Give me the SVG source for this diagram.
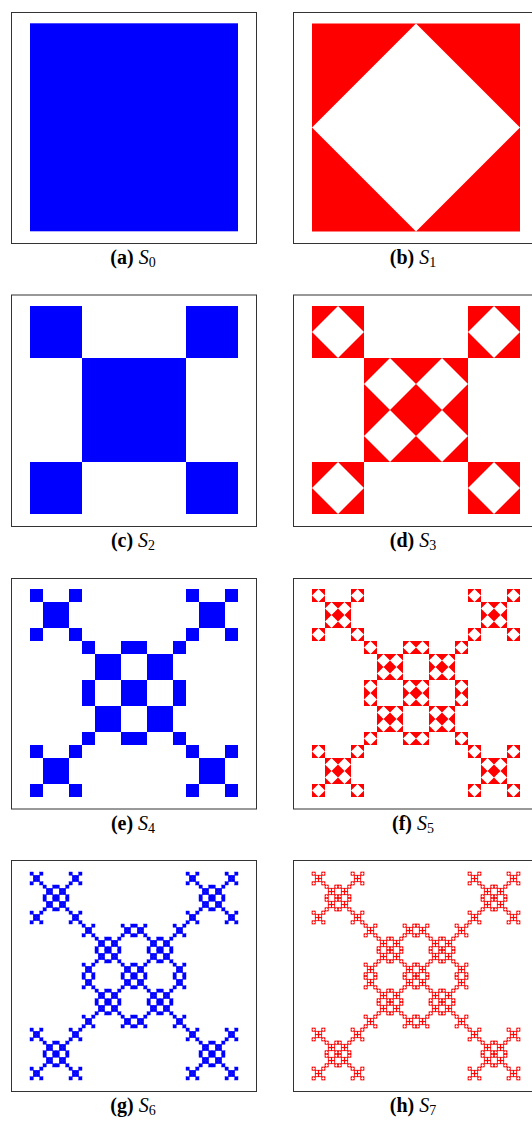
<svg xmlns="http://www.w3.org/2000/svg" width="532" height="1121" viewBox="0 0 532 1121">
<style>
.frame{fill:none;stroke:#333;stroke-width:1}
.blue{fill:#0000ff}
.red{fill:#ff0000}
.cap{font-family:'Liberation Serif','Times New Roman','DejaVu Serif',serif;font-size:20px;fill:#000;text-anchor:middle}
.lbl{font-weight:bold}
.var{font-style:italic}
.sub{font-size:14px}
</style>
<defs>
<g id="b0"><rect x="0" y="0" width="208" height="208"/></g>
<g id="b0s"><rect x="0" y="0" width="208" height="208" stroke="#0000ff" stroke-width="28"/></g>
<g id="b1">
<use href="#b0" transform="translate(0,0) scale(.25)"/>
<use href="#b0" transform="translate(156,0) scale(.25)"/>
<use href="#b0" transform="translate(0,156) scale(.25)"/>
<use href="#b0" transform="translate(156,156) scale(.25)"/>
<use href="#b0" transform="translate(52,52) scale(.25)"/>
<use href="#b0" transform="translate(104,52) scale(.25)"/>
<use href="#b0" transform="translate(52,104) scale(.25)"/>
<use href="#b0" transform="translate(104,104) scale(.25)"/>
</g>
<g id="b1s">
<use href="#b0s" transform="translate(0,0) scale(.25)"/>
<use href="#b0s" transform="translate(156,0) scale(.25)"/>
<use href="#b0s" transform="translate(0,156) scale(.25)"/>
<use href="#b0s" transform="translate(156,156) scale(.25)"/>
<use href="#b0s" transform="translate(52,52) scale(.25)"/>
<use href="#b0s" transform="translate(104,52) scale(.25)"/>
<use href="#b0s" transform="translate(52,104) scale(.25)"/>
<use href="#b0s" transform="translate(104,104) scale(.25)"/>
</g>
<g id="b2">
<use href="#b1" transform="translate(0,0) scale(.25)"/>
<use href="#b1" transform="translate(156,0) scale(.25)"/>
<use href="#b1" transform="translate(0,156) scale(.25)"/>
<use href="#b1" transform="translate(156,156) scale(.25)"/>
<use href="#b1" transform="translate(52,52) scale(.25)"/>
<use href="#b1" transform="translate(104,52) scale(.25)"/>
<use href="#b1" transform="translate(52,104) scale(.25)"/>
<use href="#b1" transform="translate(104,104) scale(.25)"/>
</g>
<g id="b2s">
<use href="#b1s" transform="translate(0,0) scale(.25)"/>
<use href="#b1s" transform="translate(156,0) scale(.25)"/>
<use href="#b1s" transform="translate(0,156) scale(.25)"/>
<use href="#b1s" transform="translate(156,156) scale(.25)"/>
<use href="#b1s" transform="translate(52,52) scale(.25)"/>
<use href="#b1s" transform="translate(104,52) scale(.25)"/>
<use href="#b1s" transform="translate(52,104) scale(.25)"/>
<use href="#b1s" transform="translate(104,104) scale(.25)"/>
</g>
<g id="b3">
<use href="#b2s" transform="translate(0,0) scale(.25)"/>
<use href="#b2s" transform="translate(156,0) scale(.25)"/>
<use href="#b2s" transform="translate(0,156) scale(.25)"/>
<use href="#b2s" transform="translate(156,156) scale(.25)"/>
<use href="#b2s" transform="translate(52,52) scale(.25)"/>
<use href="#b2s" transform="translate(104,52) scale(.25)"/>
<use href="#b2s" transform="translate(52,104) scale(.25)"/>
<use href="#b2s" transform="translate(104,104) scale(.25)"/>
</g>
<g id="r0"><path fill-rule="evenodd" d="M0,0H208V208H0Z M104,0L208,104L104,208L0,104Z"/></g>
<g id="r0s"><path fill-rule="evenodd" d="M0,0H208V208H0Z M104,0L208,104L104,208L0,104Z"/><rect x="0" y="0" width="208" height="208" fill="none" stroke="#ff0000" stroke-width="44"/></g>
<g id="r1">
<use href="#r0" transform="translate(0,0) scale(.25)"/>
<use href="#r0" transform="translate(156,0) scale(.25)"/>
<use href="#r0" transform="translate(0,156) scale(.25)"/>
<use href="#r0" transform="translate(156,156) scale(.25)"/>
<use href="#r0" transform="translate(52,52) scale(.25)"/>
<use href="#r0" transform="translate(104,52) scale(.25)"/>
<use href="#r0" transform="translate(52,104) scale(.25)"/>
<use href="#r0" transform="translate(104,104) scale(.25)"/>
</g>
<g id="r1s">
<use href="#r0s" transform="translate(0,0) scale(.25)"/>
<use href="#r0s" transform="translate(156,0) scale(.25)"/>
<use href="#r0s" transform="translate(0,156) scale(.25)"/>
<use href="#r0s" transform="translate(156,156) scale(.25)"/>
<use href="#r0s" transform="translate(52,52) scale(.25)"/>
<use href="#r0s" transform="translate(104,52) scale(.25)"/>
<use href="#r0s" transform="translate(52,104) scale(.25)"/>
<use href="#r0s" transform="translate(104,104) scale(.25)"/>
</g>
<g id="r2">
<use href="#r1" transform="translate(0,0) scale(.25)"/>
<use href="#r1" transform="translate(156,0) scale(.25)"/>
<use href="#r1" transform="translate(0,156) scale(.25)"/>
<use href="#r1" transform="translate(156,156) scale(.25)"/>
<use href="#r1" transform="translate(52,52) scale(.25)"/>
<use href="#r1" transform="translate(104,52) scale(.25)"/>
<use href="#r1" transform="translate(52,104) scale(.25)"/>
<use href="#r1" transform="translate(104,104) scale(.25)"/>
</g>
<g id="r2s">
<use href="#r1s" transform="translate(0,0) scale(.25)"/>
<use href="#r1s" transform="translate(156,0) scale(.25)"/>
<use href="#r1s" transform="translate(0,156) scale(.25)"/>
<use href="#r1s" transform="translate(156,156) scale(.25)"/>
<use href="#r1s" transform="translate(52,52) scale(.25)"/>
<use href="#r1s" transform="translate(104,52) scale(.25)"/>
<use href="#r1s" transform="translate(52,104) scale(.25)"/>
<use href="#r1s" transform="translate(104,104) scale(.25)"/>
</g>
<g id="r3">
<use href="#r2s" transform="translate(0,0) scale(.25)"/>
<use href="#r2s" transform="translate(156,0) scale(.25)"/>
<use href="#r2s" transform="translate(0,156) scale(.25)"/>
<use href="#r2s" transform="translate(156,156) scale(.25)"/>
<use href="#r2s" transform="translate(52,52) scale(.25)"/>
<use href="#r2s" transform="translate(104,52) scale(.25)"/>
<use href="#r2s" transform="translate(52,104) scale(.25)"/>
<use href="#r2s" transform="translate(104,104) scale(.25)"/>
</g>
</defs>
<rect width="532" height="1121" fill="#fff"/>

<g id="panel-a">
<rect class="frame" x="11.5" y="12.5" width="245" height="231"/>
<use href="#b0" class="blue" transform="translate(30,23.3)"/>
<text class="cap" x="133" y="264" font-family="Liberation Serif, serif"><tspan class="lbl">(a)</tspan> <tspan class="var">S</tspan><tspan class="sub" dy="3">0</tspan></text>
</g>
<g id="panel-b">
<rect class="frame" x="293.5" y="12.5" width="245" height="231"/>
<use href="#r0" class="red" transform="translate(312,23.5)"/>
<text class="cap" x="413" y="264" font-family="Liberation Serif, serif"><tspan class="lbl">(b)</tspan> <tspan class="var">S</tspan><tspan class="sub" dy="3">1</tspan></text>
</g>
<g id="panel-c">
<rect class="frame" x="11.5" y="295" width="245" height="231.5"/>
<use href="#b1" class="blue" transform="translate(30,306)"/>
<text class="cap" x="133" y="547" font-family="Liberation Serif, serif"><tspan class="lbl">(c)</tspan> <tspan class="var">S</tspan><tspan class="sub" dy="3">2</tspan></text>
</g>
<g id="panel-d">
<rect class="frame" x="293.5" y="295" width="245" height="231.5"/>
<use href="#r1" class="red" transform="translate(312,306)"/>
<text class="cap" x="413" y="547" font-family="Liberation Serif, serif"><tspan class="lbl">(d)</tspan> <tspan class="var">S</tspan><tspan class="sub" dy="3">3</tspan></text>
</g>
<g id="panel-e">
<rect class="frame" x="11.5" y="578.5" width="245" height="230.5"/>
<use href="#b2" class="blue" transform="translate(30,589)"/>
<text class="cap" x="133" y="830" font-family="Liberation Serif, serif"><tspan class="lbl">(e)</tspan> <tspan class="var">S</tspan><tspan class="sub" dy="3">4</tspan></text>
</g>
<g id="panel-f">
<rect class="frame" x="293.5" y="578.5" width="245" height="230.5"/>
<use href="#r2" class="red" transform="translate(312,589)"/>
<text class="cap" x="413" y="830" font-family="Liberation Serif, serif"><tspan class="lbl">(f)</tspan> <tspan class="var">S</tspan><tspan class="sub" dy="3">5</tspan></text>
</g>
<g id="panel-g">
<rect class="frame" x="11.5" y="860.5" width="245" height="231"/>
<use href="#b3" class="blue" transform="translate(30,872)"/>
<text class="cap" x="133" y="1112" font-family="Liberation Serif, serif"><tspan class="lbl">(g)</tspan> <tspan class="var">S</tspan><tspan class="sub" dy="3">6</tspan></text>
</g>
<g id="panel-h">
<rect class="frame" x="293.5" y="860.5" width="245" height="231"/>
<use href="#r3" class="red" transform="translate(312,872)"/>
<text class="cap" x="413" y="1112" font-family="Liberation Serif, serif"><tspan class="lbl">(h)</tspan> <tspan class="var">S</tspan><tspan class="sub" dy="3">7</tspan></text>
</g>
<g id="connectors"/>
</svg>
